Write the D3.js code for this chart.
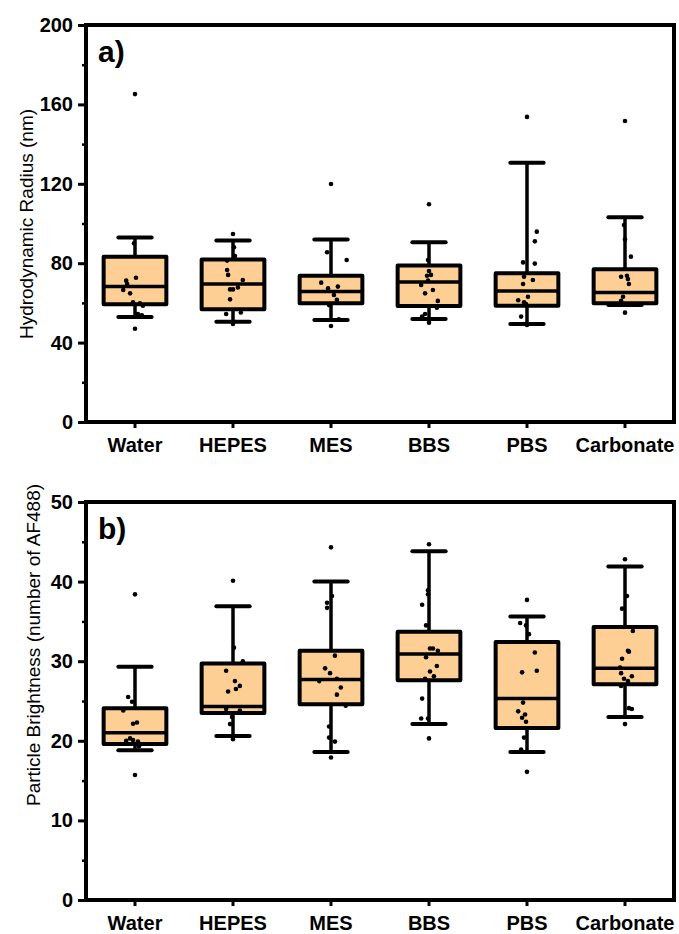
<!DOCTYPE html>
<html>
<head>
<meta charset="utf-8">
<title>Hydrodynamic radius and particle brightness by buffer</title>
<script src="https://cdnjs.cloudflare.com/ajax/libs/d3/7.8.5/d3.min.js"></script>
<style>
  body { margin: 0; background: #fff; }
  svg { display: block; font-family: "Liberation Sans", Arial, sans-serif; }
</style>
</head>
<body>
<script>
// buffers on the x axis
var buffers = ["Water", "HEPES", "MES", "BBS", "PBS", "Carbonate"];

// box stats per buffer: [whisker low, q1, median, q3, whisker high]
var radiusBoxes = [
  [52.9, 59.3, 68.2, 83.3, 92.9],
  [50.5, 56.8, 69.5, 81.9, 91.4],
  [51.4, 59.8, 65.7, 73.7, 92.0],
  [51.9, 58.4, 70.5, 78.9, 90.5],
  [49.4, 58.6, 66.0, 74.9, 130.6],
  [58.9, 59.8, 65.3, 76.9, 103.1]
];
var brightnessBoxes = [
  [18.8, 19.6, 21.0, 24.1, 29.3],
  [20.6, 23.5, 24.3, 29.7, 36.9],
  [18.6, 24.6, 27.7, 31.3, 40.0],
  [22.1, 27.6, 30.9, 33.7, 43.8],
  [18.6, 21.6, 25.3, 32.4, 35.6],
  [23.0, 27.1, 29.1, 34.3, 41.9]
];

// raw points per buffer: [value, jitter in category units]
var radiusPoints = [
  [[165.2,0],[90.0,-0.01],[71.2,-0.09],[72.7,0.01],[69.5,-0.08],[66.5,-0.12],[64.8,-0.05],[60.3,-0.02],[59.8,0.05],[58.6,0.08],[54.4,0.03],[53.7,0.07],[47.0,0]],
  [[94.7,0],[88.0,0.01],[83.6,0.02],[81.3,-0.06],[76.6,-0.06],[74.1,-0.05],[71.5,0.10],[67.8,0.05],[66.8,-0.03],[66.8,0],[61.8,-0.03],[54.4,-0.07],[55.2,0.08],[49.4,0]],
  [[119.9,0],[85.5,-0.04],[81.6,0.16],[70.2,-0.10],[67.3,-0.03],[68.2,0.07],[64.0,0.03],[61.5,0.06],[58.9,-0.02],[51.7,0.08],[48.4,0]],
  [[109.7,0],[81.6,-0.01],[76.1,0.00],[73.7,-0.02],[74.1,0.02],[69.0,-0.08],[71.2,-0.01],[66.5,0.04],[64.8,-0.04],[61.0,0.09],[57.6,0.08],[54.4,-0.04],[53.1,-0.07],[50.0,0]],
  [[153.7,0],[95.9,0.10],[91.0,0.08],[80.4,-0.04],[79.8,0.08],[73.2,-0.03],[71.5,0.06],[69.5,-0.04],[63.1,0.01],[61.3,-0.09],[60.3,-0.03],[59.4,-0.01],[53.1,-0.06],[48.9,0]],
  [[151.6,0],[99.2,-0.01],[92.0,0],[83.3,0.06],[73.2,-0.04],[73.7,0.02],[69.5,0.04],[72.0,0.03],[63.1,-0.02],[61.1,-0.04],[55.1,0]]
];
var brightnessPoints = [
  [[38.4,0],[25.5,-0.07],[24.9,-0.03],[23.8,-0.12],[22.15,-0.02],[22.3,0.02],[20.3,-0.05],[20.0,-0.09],[20.1,-0.02],[19.9,0.03],[19.3,0.04],[15.7,0]],
  [[40.1,0],[31.7,0.01],[30.0,0.10],[28.8,-0.07],[27.5,0.02],[26.9,0.07],[26.5,0.03],[26.2,-0.05],[24.0,-0.07],[23.8,0.07],[23.0,-0.01],[22.1,-0.03],[20.2,0]],
  [[44.3,0],[38.2,0.01],[37.35,-0.04],[36.7,-0.04],[30.7,0.04],[29.1,-0.06],[28.5,-0.01],[27.8,0.06],[27.5,-0.12],[26.7,0.10],[25.8,0.06],[24.4,0.15],[21.8,-0.02],[20.4,-0.02],[19.9,0.04],[17.9,0]],
  [[44.7,0],[38.9,-0.01],[38.4,-0.01],[37.1,-0.07],[34.5,-0.03],[31.6,0.01],[31.6,0.04],[31.3,0.09],[30.5,-0.03],[29.4,0.08],[28.7,0.01],[28.1,0.05],[27.8,-0.04],[25.3,-0.07],[22.8,-0.08],[22.8,-0.01],[20.3,0]],
  [[37.7,0],[34.8,-0.07],[34.5,-0.01],[33.4,0.02],[31.1,0.08],[28.6,-0.05],[28.8,0.10],[24.8,-0.04],[23.7,-0.09],[23.3,-0.02],[22.9,-0.05],[22.4,-0.01],[20.4,-0.03],[18.9,-0.06],[16.1,0]],
  [[42.8,0],[38.2,0.02],[36.6,-0.03],[33.8,0.08],[31.3,0.03],[31.2,0.04],[30.3,-0.03],[29.2,-0.05],[28.5,-0.04],[28.1,0.07],[27.8,-0.01],[27.5,0.03],[26.9,-0.04],[24.1,0.04],[24.0,0.07],[22.1,0]]
];

var radiusTicks = [0, 40, 80, 120, 160, 200];
var radiusMinor = [20, 60, 100, 140, 180];
var brightnessTicks = [0, 10, 20, 30, 40, 50];
var brightnessMinor = [5, 15, 25, 35, 45];

var svg = d3.select("body").append("svg")
    .attr("width", 679)
    .attr("height", 934);

var left = 86, right = 674;
var fill = "#fdcf94";

var x = d3.scaleBand()
    .domain(buffers)
    .range([left, right])
    .padding(0);

function panel(opt) {
  var y = d3.scaleLinear().domain(opt.domain).range([opt.bottom, opt.top]);
  var g = svg.append("g");
  var bw = x.bandwidth();

  // boxes
  var box = g.selectAll(".box")
      .data(opt.boxes)
      .enter().append("g");

  box.append("line")
      .attr("x1", function(d, i) { return x(buffers[i]) + bw / 2; })
      .attr("x2", function(d, i) { return x(buffers[i]) + bw / 2; })
      .attr("y1", function(d) { return y(d[0]); })
      .attr("y2", function(d) { return y(d[4]); })
      .attr("stroke", "#000").attr("stroke-width", 3.5);

  box.selectAll(".cap")
      .data(function(d, i) { return [[i, d[0]], [i, d[4]]]; })
      .enter().append("line")
      .attr("x1", function(d) { return x(buffers[d[0]]) + bw / 2 - bw * 0.17; })
      .attr("x2", function(d) { return x(buffers[d[0]]) + bw / 2 + bw * 0.17; })
      .attr("y1", function(d) { return y(d[1]); })
      .attr("y2", function(d) { return y(d[1]); })
      .attr("stroke", "#000").attr("stroke-width", 4)
      .attr("stroke-linecap", "round");

  box.append("rect")
      .attr("x", function(d, i) { return x(buffers[i]) + bw * 0.18; })
      .attr("width", bw * 0.64)
      .attr("y", function(d) { return y(d[3]); })
      .attr("height", function(d) { return y(d[1]) - y(d[3]); })
      .attr("fill", fill)
      .attr("stroke", "#000").attr("stroke-width", 4)
      .attr("stroke-linejoin", "round");

  box.append("line")
      .attr("x1", function(d, i) { return x(buffers[i]) + bw * 0.18; })
      .attr("x2", function(d, i) { return x(buffers[i]) + bw * 0.82; })
      .attr("y1", function(d) { return y(d[2]); })
      .attr("y2", function(d) { return y(d[2]); })
      .attr("stroke", "#000").attr("stroke-width", 3.5);

  // raw points
  opt.points.forEach(function(pts, i) {
    g.selectAll(null)
      .data(pts)
      .enter().append("circle")
      .attr("cx", function(d) { return x(buffers[i]) + bw / 2 + d[1] * bw; })
      .attr("cy", function(d) { return y(d[0]); })
      .attr("r", 2.3)
      .attr("fill", "#000");
  });

  // y axis
  var ya = g.append("g")
      .attr("transform", "translate(" + left + ",0)")
      .call(d3.axisLeft(y).tickValues(opt.ticks).tickSize(8).tickPadding(5));
  ya.select(".domain").remove();
  ya.selectAll("line").attr("stroke-width", 3);
  ya.selectAll("text")
      .attr("font-size", 20).attr("font-weight", "bold").attr("fill", "#000");

  var ym = g.append("g")
      .attr("transform", "translate(" + left + ",0)")
      .call(d3.axisLeft(y).tickValues(opt.minor).tickSize(4).tickFormat(""));
  ym.select(".domain").remove();
  ym.selectAll("line").attr("stroke-width", 2.5);

  // x axis
  var xa = g.append("g")
      .attr("transform", "translate(0," + opt.bottom + ")")
      .call(d3.axisBottom(x).tickSize(6).tickPadding(10));
  xa.select(".domain").remove();
  xa.selectAll("line").attr("stroke-width", 3);
  xa.selectAll("text")
      .attr("font-size", 20).attr("font-weight", "bold").attr("fill", "#000");

  // frame
  g.append("rect")
      .attr("x", left).attr("y", opt.top)
      .attr("width", right - left).attr("height", opt.bottom - opt.top)
      .attr("fill", "none")
      .attr("stroke", "#000").attr("stroke-width", 4);

  g.append("text")
      .attr("x", left + 12).attr("y", opt.top + 37)
      .attr("font-size", 30).attr("font-weight", "bold")
      .text(opt.letter);

  g.append("text")
      .attr("transform", "translate(" + opt.titleX + "," + opt.titleY + ") rotate(-90)")
      .attr("text-anchor", "middle")
      .attr("font-size", 19)
      .text(opt.title);
}

panel({
  top: 25, bottom: 422, domain: [0, 200],
  boxes: radiusBoxes, points: radiusPoints,
  ticks: radiusTicks, minor: radiusMinor,
  letter: "a)", title: "Hydrodynamic Radius (nm)",
  titleX: 33, titleY: 224
});

panel({
  top: 502, bottom: 900, domain: [0, 50],
  boxes: brightnessBoxes, points: brightnessPoints,
  ticks: brightnessTicks, minor: brightnessMinor,
  letter: "b)", title: "Particle Brightness (number of AF488)",
  titleX: 40, titleY: 645
});
</script>
</body>
</html>
